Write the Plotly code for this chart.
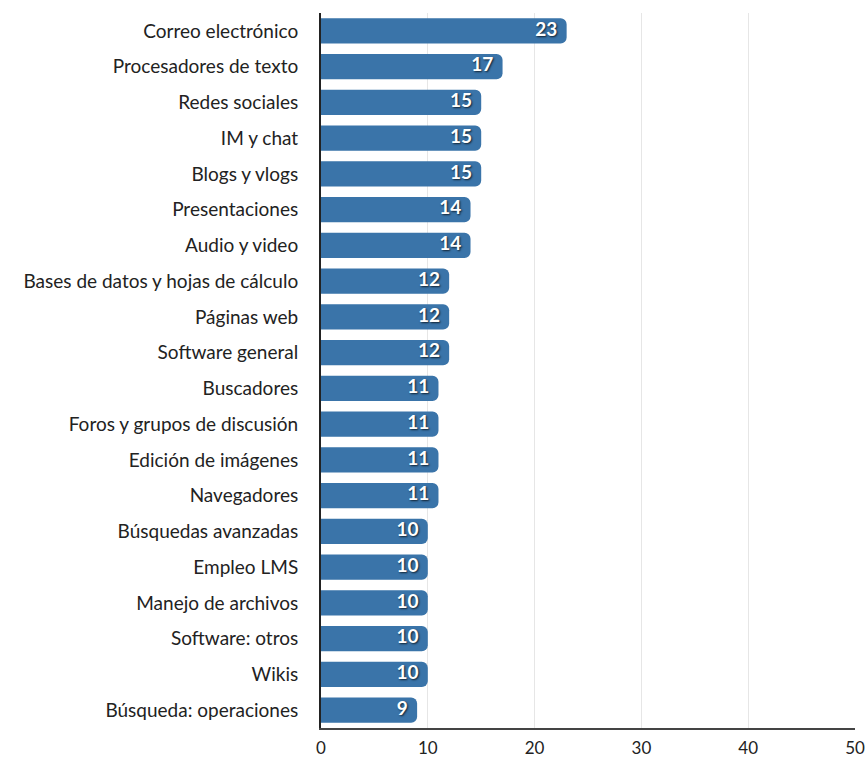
import plotly.graph_objects as go

categories = [
    "Correo electrónico", "Procesadores de texto", "Redes sociales", "IM y chat",
    "Blogs y vlogs", "Presentaciones", "Audio y video",
    "Bases de datos y hojas de cálculo", "Páginas web", "Software general",
    "Buscadores", "Foros y grupos de discusión", "Edición de imágenes",
    "Navegadores", "Búsquedas avanzadas", "Empleo LMS", "Manejo de archivos",
    "Software: otros", "Wikis", "Búsqueda: operaciones",
]
values = [23, 17, 15, 15, 15, 14, 14, 12, 12, 12, 11, 11, 11, 11, 10, 10, 10, 10, 10, 9]
x_ticks = [0, 10, 20, 30, 40, 50]

fig = go.Figure()
fig.add_trace(go.Bar(
    x=values,
    y=categories,
    orientation="h",
    marker=dict(color="#3a74a9", cornerradius=6, line=dict(width=0)),
    width=0.7,
    hoverinfo="x+y",
))
fig.add_trace(go.Scatter(
    x=values,
    y=categories,
    mode="text",
    text=[f"{v}\u00a0\u00a0" for v in values],
    textposition="middle left",
    textfont=dict(family="Lato", size=19, color="white", weight="bold",
                  shadow="1px 1px 2px #10202e"),
    hoverinfo="skip",
    cliponaxis=False,
))

fig.update_layout(
    width=867, height=760,
    margin=dict(l=321, r=12, t=13, b=32),
    paper_bgcolor="white",
    plot_bgcolor="white",
    showlegend=False,
    font=dict(family="Lato", size=19, color="#222222"),
    xaxis=dict(
        range=[0, 50],
        tickvals=x_ticks,
        ticktext=[str(t) for t in x_ticks],
        showgrid=True,
        gridcolor="#e6e6e6",
        gridwidth=1,
        showline=True,
        linecolor="#444444",
        linewidth=2,
        zeroline=False,
        ticks="",
        ticklabelstandoff=4,
        tickfont=dict(size=17, color="#222222"),
        automargin=False,
        fixedrange=True,
    ),
    yaxis=dict(
        categoryorder="array",
        categoryarray=categories[::-1],
        range=[-0.5, len(categories) - 0.5],
        showline=True,
        linecolor="#222222",
        linewidth=2,
        ticks="",
        ticklabelstandoff=17,
        tickfont=dict(size=19, color="#222222"),
        showgrid=False,
        automargin=False,
        fixedrange=True,
    ),
)

fig.write_html(
    "out.html",
    post_script="document.body.style.margin='0';document.body.style.overflow='hidden';",
)
